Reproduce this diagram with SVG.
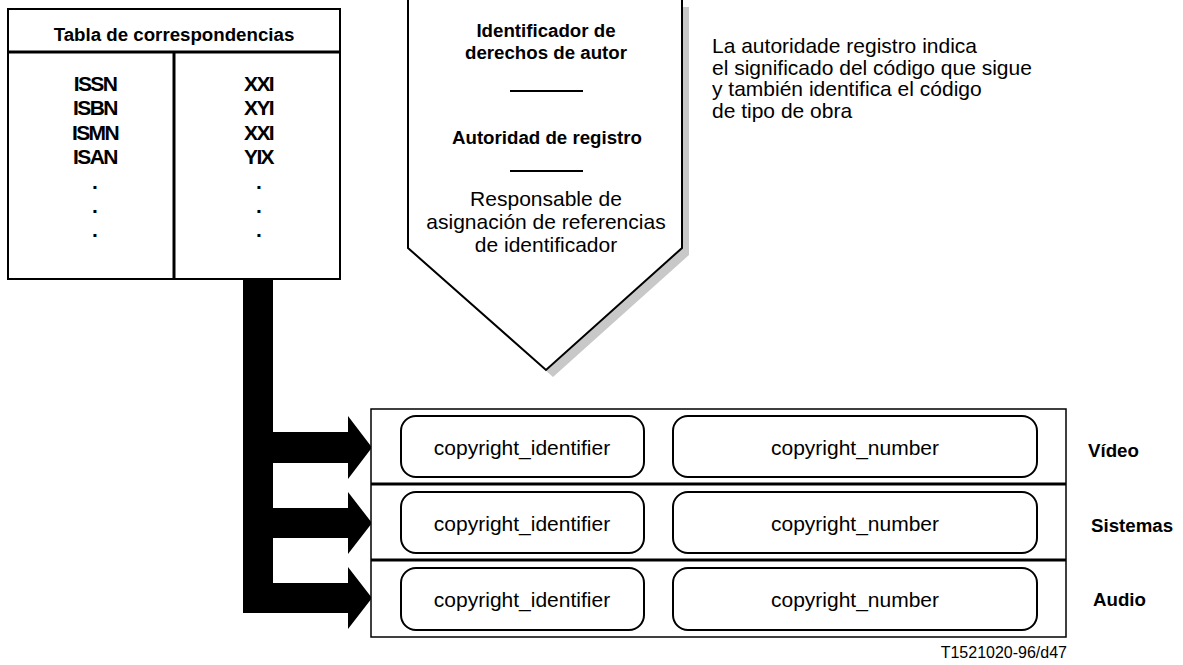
<svg xmlns="http://www.w3.org/2000/svg" width="1183" height="665" viewBox="0 0 1183 665">
<style>
text{font-family:"Liberation Sans",Arial,sans-serif;fill:#000}
.b{font-weight:bold;font-size:18.7px}
.r{font-size:21px}
.c{text-anchor:middle}
.code{font-weight:bold;font-size:21px;letter-spacing:-1.6px;text-anchor:middle}
.ln{stroke:#000;fill:none}
.rb{fill:#fff;stroke:#000;stroke-width:2}
</style>
<rect width="1183" height="665" fill="#fff"/>
<g id="tabla">
<rect x="8" y="9" width="332" height="270" fill="#fff" stroke="#000" stroke-width="2"/>
<line class="ln" x1="8" y1="52" x2="340" y2="52" stroke-width="3"/>
<line class="ln" x1="174" y1="52" x2="174" y2="279" stroke-width="3"/>
<text class="b c" x="174" y="41">Tabla de correspondencias</text>
<text class="code" x="95" y="90.5">ISSN</text>
<text class="code" x="95" y="115">ISBN</text>
<text class="code" x="95" y="139.5">ISMN</text>
<text class="code" x="95" y="163.5">ISAN</text>
<text class="code" x="94" y="189">.</text>
<text class="code" x="94" y="213">.</text>
<text class="code" x="94" y="237">.</text>
<text class="code" x="258.5" y="90.5">XXI</text>
<text class="code" x="258.5" y="115">XYI</text>
<text class="code" x="258.5" y="139.5">XXI</text>
<text class="code" x="258.5" y="163.5">YIX</text>
<text class="code" x="258" y="189">.</text>
<text class="code" x="258" y="213">.</text>
<text class="code" x="258" y="237">.</text>
</g>
<g id="identificador">
<path d="M415,7 V255 L553,377 L689,255 V7 Z" fill="#c8c8c8"/>
<path d="M408,-2 V248 L546,370 L682,248 V-2 Z" fill="#fff" stroke="#000" stroke-width="2"/>
<text class="b c" x="546" y="37">Identificador de</text>
<text class="b c" x="546" y="59">derechos de autor</text>
<line class="ln" x1="510" y1="91" x2="583" y2="91" stroke-width="2"/>
<text class="b c" x="547" y="144">Autoridad de registro</text>
<line class="ln" x1="510" y1="171" x2="583" y2="171" stroke-width="2"/>
<text class="r c" x="546" y="206">Responsable de</text>
<text class="r c" x="546" y="229">asignación de referencias</text>
<text class="r c" x="546" y="252">de identificador</text>
</g>
<g id="nota">
<text class="r" x="712" y="53">La autoridade registro indica</text>
<text class="r" x="712" y="74.5">el significado del código que sigue</text>
<text class="r" x="712" y="96">y también identifica el código</text>
<text class="r" x="712" y="117.5">de tipo de obra</text>
</g>
<g id="conectores">
<path d="M243,279 H273 V432 H348 V416 L372,447.5 L348,479 V463 H273 V508 H348 V492 L372,523 L348,554 V538 H273 V583 H348 V567 L372,598 L348,629 V613 H243 Z" fill="#000"/>
</g>
<g id="campos">
<rect x="371" y="409" width="695" height="228" fill="#fff" stroke="#000" stroke-width="1.5"/>
<line class="ln" x1="371" y1="484" x2="1066" y2="484" stroke-width="3"/>
<line class="ln" x1="371" y1="560" x2="1066" y2="560" stroke-width="3"/>
</g>
<g id="video">
<rect class="rb" x="401" y="416" width="243" height="61" rx="15"/>
<rect class="rb" x="673" y="416" width="364" height="61" rx="15"/>
<text class="r c" x="522" y="455">copyright_identifier</text>
<text class="r c" x="855" y="455">copyright_number</text>
<text class="b" x="1088" y="457">Vídeo</text>
</g>
<g id="sistemas">
<rect class="rb" x="401" y="492" width="243" height="61" rx="15"/>
<rect class="rb" x="673" y="492" width="364" height="61" rx="15"/>
<text class="r c" x="522" y="531">copyright_identifier</text>
<text class="r c" x="855" y="531">copyright_number</text>
<text class="b" x="1091" y="532">Sistemas</text>
</g>
<g id="audio">
<rect class="rb" x="401" y="568" width="243" height="62" rx="15"/>
<rect class="rb" x="673" y="568" width="364" height="62" rx="15"/>
<text class="r c" x="522" y="607">copyright_identifier</text>
<text class="r c" x="855" y="607">copyright_number</text>
<text class="b" x="1093" y="606">Audio</text>
</g>
<text x="1067" y="658" style="font-size:16px;text-anchor:end">T1521020-96/d47</text>
</svg>
